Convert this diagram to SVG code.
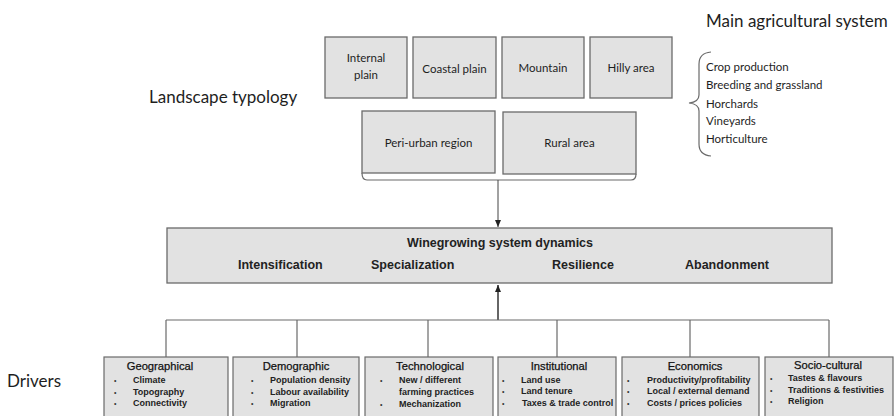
<svg xmlns="http://www.w3.org/2000/svg" width="895" height="416" viewBox="0 0 895 416">
<defs>
<style>
.lbl{font-family:Lato,"Liberation Sans",sans-serif;fill:#1e1e1e}
.big{font-size:17px}
.ls{font-size:11.5px;text-anchor:middle}
.ag{font-size:11.5px}
.box{fill:#e2e2e2;stroke:#6a6a6a;stroke-width:1.3}
.dbox{fill:#e2e2e2;stroke:#6a6a6a;stroke-width:1.2}
.main{font-family:"Liberation Sans",Arial,sans-serif;font-weight:bold;font-size:12.5px;fill:#222}
.ttl{font-family:"Liberation Sans",Arial,sans-serif;font-size:11.2px;fill:#111;text-anchor:middle;stroke:#111;stroke-width:0.25}
.it{font-family:"Liberation Sans",Arial,sans-serif;font-weight:bold;font-size:9px;fill:#222}
.bl{font-family:"Liberation Sans",Arial,sans-serif;font-size:7px;fill:#333}
.ln{fill:none;stroke:#6a6a6a;stroke-width:1.2}
</style>
<marker id="ah" markerWidth="8" markerHeight="8" refX="7" refY="4" orient="auto" markerUnits="userSpaceOnUse">
<path d="M0,1 L7,4 L0,7 Z" fill="#222"/>
</marker>
</defs>
<rect width="895" height="416" fill="#ffffff"/>

<text class="lbl big" x="706" y="27">Main agricultural system</text>
<text class="lbl big" x="149" y="103">Landscape typology</text>
<text class="lbl big" x="7" y="387">Drivers</text>

<g id="internal-plain"><rect class="box" x="325" y="37" width="82" height="61"/><text class="lbl ls" x="366" y="62">Internal</text><text class="lbl ls" x="366" y="79">plain</text></g>
<g id="coastal-plain"><rect class="box" x="413" y="37" width="83" height="61"/><text class="lbl ls" x="454.5" y="73">Coastal plain</text></g>
<g id="mountain"><rect class="box" x="502" y="37" width="82" height="61"/><text class="lbl ls" x="543" y="72">Mountain</text></g>
<g id="hilly-area"><rect class="box" x="590" y="37" width="82" height="61"/><text class="lbl ls" x="631" y="72">Hilly area</text></g>
<g id="peri-urban"><rect class="box" x="362" y="111" width="133" height="62"/><text class="lbl ls" x="428.5" y="147">Peri-urban region</text></g>
<g id="rural-area"><rect class="box" x="503" y="112" width="133" height="62"/><text class="lbl ls" x="569.5" y="147">Rural area</text></g>

<g id="agri-list">
<path class="ln" d="M711,52 Q699,53 699,64 L699,95 Q699,102 689,103 Q699,104 699,111 L699,144 Q699,155 711,156" stroke="#555"/>
<text class="lbl ag" x="706" y="71">Crop production</text>
<text class="lbl ag" x="706" y="89">Breeding and grassland</text>
<text class="lbl ag" x="706" y="108">Horchards</text>
<text class="lbl ag" x="706" y="125">Vineyards</text>
<text class="lbl ag" x="706" y="143">Horticulture</text>
</g>

<g id="dynamics">
<rect class="box" x="167" y="228" width="665" height="55"/>
<text class="main" x="500" y="247" text-anchor="middle">Winegrowing system dynamics</text>
<text class="main" x="238" y="269">Intensification</text>
<text class="main" x="371" y="269">Specialization</text>
<text class="main" x="552" y="269">Resilience</text>
<text class="main" x="685" y="269">Abandonment</text>
</g>

<g id="connectors">
<path class="ln" d="M362,173 Q362,180 367,180 L631,180 Q636,180 636,174" stroke-width="1.1"/>
<path d="M498,180 L498,227" fill="none" stroke="#444" stroke-width="1" marker-end="url(#ah)"/>
<path d="M498,320 L498,285" fill="none" stroke="#333" stroke-width="1.5" marker-end="url(#ah)"/>
<path class="ln" d="M166,320 L829,320 M166,320 L166,357 M297,320 L297,357 M428,320 L428,357 M557,320 L557,357 M690,320 L690,357 M829,320 L829,357"/>
</g>

<g id="geographical">
<rect class="dbox" x="104" y="357" width="124" height="65"/>
<text class="ttl" x="160" y="370">Geographical</text>
<text class="bl" x="114" y="383">•</text><text class="it" x="133" y="383">Climate</text>
<text class="bl" x="114" y="394.5">•</text><text class="it" x="133" y="394.5">Topography</text>
<text class="bl" x="114" y="406">•</text><text class="it" x="133" y="406">Connectivity</text>
</g>
<g id="demographic">
<rect class="dbox" x="233" y="357" width="126" height="65"/>
<text class="ttl" x="296" y="370">Demographic</text>
<text class="bl" x="251" y="383">•</text><text class="it" x="270" y="383">Population density</text>
<text class="bl" x="251" y="394.5">•</text><text class="it" x="270" y="394.5">Labour availability</text>
<text class="bl" x="251" y="406">•</text><text class="it" x="270" y="406">Migration</text>
</g>
<g id="technological">
<rect class="dbox" x="365" y="357" width="128" height="65"/>
<text class="ttl" x="430" y="370">Technological</text>
<text class="bl" x="380" y="383">•</text><text class="it" x="399" y="383">New / different</text>
<text class="it" x="399" y="395">farming practices</text>
<text class="bl" x="380" y="406.5">•</text><text class="it" x="399" y="406.5">Mechanization</text>
</g>
<g id="institutional">
<rect class="dbox" x="498" y="357" width="118" height="65"/>
<text class="ttl" x="559" y="370">Institutional</text>
<text class="bl" x="502" y="383">•</text><text class="it" x="521" y="383">Land use</text>
<text class="bl" x="502" y="394">•</text><text class="it" x="521" y="394">Land tenure</text>
<text class="bl" x="502" y="406">•</text><text class="it" x="522" y="406">Taxes &amp; trade control</text>
</g>
<g id="economics">
<rect class="dbox" x="622" y="357" width="137" height="65"/>
<text class="ttl" x="695" y="370">Economics</text>
<text class="bl" x="627" y="382.5">•</text><text class="it" x="647" y="382.5">Productivity/profitability</text>
<text class="bl" x="627" y="394">•</text><text class="it" x="647" y="394">Local / external demand</text>
<text class="bl" x="627" y="406">•</text><text class="it" x="647" y="406">Costs / prices policies</text>
</g>
<g id="socio-cultural">
<rect class="dbox" x="765" y="357" width="128" height="65"/>
<text class="ttl" x="828" y="369">Socio-cultural</text>
<text class="bl" x="770" y="381">•</text><text class="it" x="788" y="381">Tastes &amp; flavours</text>
<text class="bl" x="770" y="392.5">•</text><text class="it" x="788" y="392.5">Traditions &amp; festivities</text>
<text class="bl" x="770" y="404">•</text><text class="it" x="788" y="404">Religion</text>
</g>
</svg>
